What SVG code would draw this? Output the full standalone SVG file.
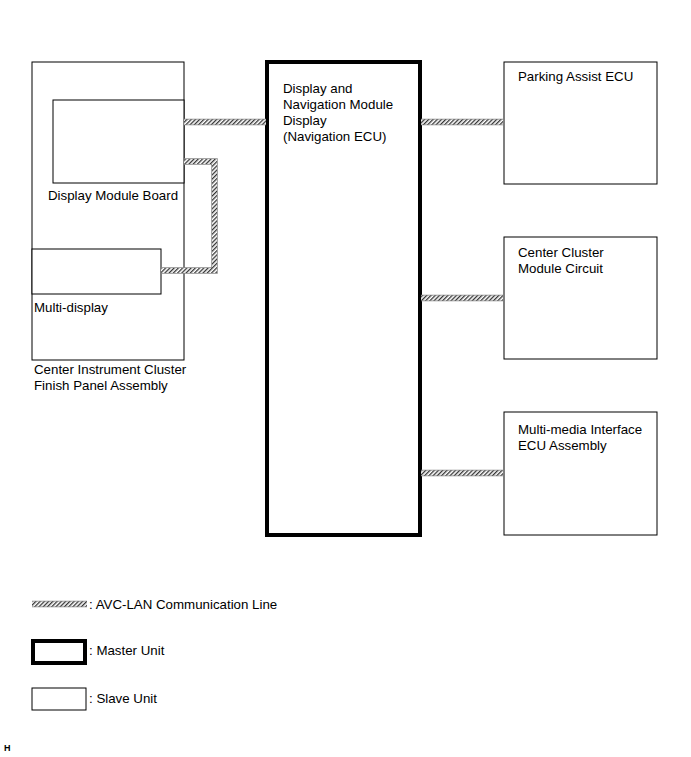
<svg xmlns="http://www.w3.org/2000/svg" width="691" height="757" viewBox="0 0 691 757">
<defs>
<pattern id="h" patternUnits="userSpaceOnUse" width="3" height="3" patternTransform="rotate(45)">
<rect width="3" height="3" fill="#fff"/><rect width="1.3" height="3" fill="#333"/>
</pattern>
</defs>
<style>
.b{fill:#fff;stroke:#000;stroke-width:1}
.m{fill:#fff;stroke:#000;stroke-width:4}
.w{fill:none;stroke:#888;stroke-width:6.5}
.c{fill:none;stroke:url(#h);stroke-width:5}
text{font-family:"Liberation Sans",Arial,sans-serif;font-size:13.3px;fill:#000}
</style>
<rect width="691" height="757" fill="#fff"/>
<g id="panel"><rect class="b" x="32" y="62" width="152" height="298"/>
<text x="34" y="374">Center Instrument Cluster</text><text x="34" y="390">Finish Panel Assembly</text></g>
<g id="dmb"><rect class="b" x="53" y="100" width="131" height="83"/><text x="48" y="200">Display Module Board</text></g>
<g id="md"><rect class="b" x="32" y="249" width="129" height="45"/><text x="34" y="312">Multi-display</text></g>
<g id="master"><rect class="m" x="267" y="62" width="153" height="473"/>
<text x="283" y="93">Display and</text><text x="283" y="109">Navigation Module</text><text x="283" y="125">Display</text><text x="283" y="141">(Navigation ECU)</text></g>
<g id="pa"><rect class="b" x="504" y="62" width="153" height="122"/><text x="518" y="81">Parking Assist ECU</text></g>
<g id="cc"><rect class="b" x="504" y="237" width="153" height="122"/><text x="518" y="257">Center Cluster</text><text x="518" y="273">Module Circuit</text></g>
<g id="mm"><rect class="b" x="504" y="412" width="153" height="123"/><text x="518" y="434">Multi-media Interface</text><text x="518" y="450">ECU Assembly</text></g>
<g id="connectors">
<path class="w" d="M184 122H266M421 122H503M421 298H503M421 473H503M184 161.5H214.5V270.5H161"/>
<path class="c" d="M184 122H266M421 122H503M421 298H503M421 473H503M184 161.5H214.5V270.5H161"/>
</g>
<g id="legend">
<path class="w" d="M32 604H87" stroke-width="5"/><path class="c" d="M32 604H87" stroke-width="4"/>
<text x="89" y="609">: AVC-LAN Communication Line</text>
<rect class="m" x="33" y="641" width="52" height="22" stroke-width="3"/><text x="89" y="655">: Master Unit</text>
<rect class="b" x="32" y="688" width="54" height="22"/><text x="89" y="703">: Slave Unit</text>
<text x="4" y="751" style="font-size:9px;font-weight:bold">H</text>
</g>
</svg>
